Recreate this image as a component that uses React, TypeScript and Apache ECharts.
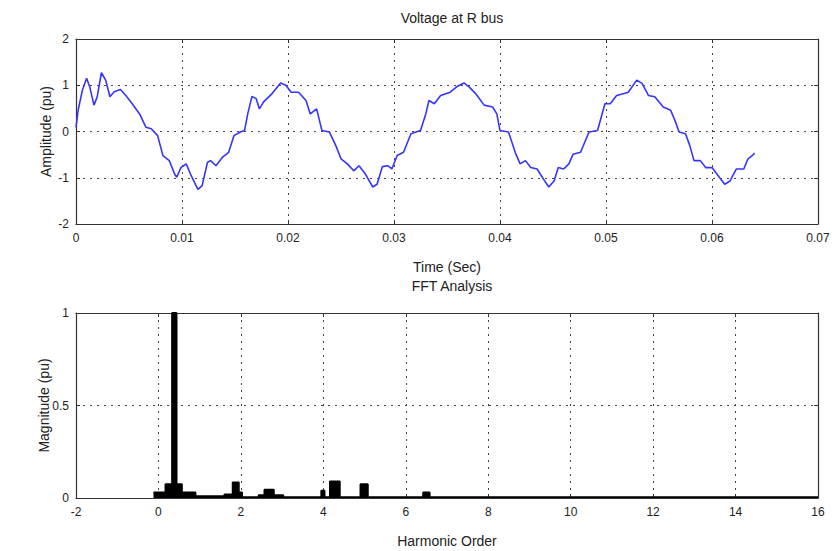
import React, { useEffect, useRef } from "react";
import * as echarts from "echarts";

// Top plot: voltage waveform at R bus
const timeSec = [
  0, 0.0002, 0.0006, 0.001, 0.0013, 0.0017, 0.002, 0.0024, 0.0028, 0.0032,
  0.0036, 0.0042, 0.0047, 0.0053, 0.006, 0.0066, 0.0071, 0.0077, 0.0082, 0.0088,
  0.0093, 0.0095, 0.0099, 0.0104, 0.0108, 0.0115, 0.0119, 0.0124, 0.0127, 0.0132,
  0.0138, 0.0144, 0.0149, 0.0155, 0.0159, 0.0162, 0.0166, 0.017, 0.0173, 0.0177,
  0.0185, 0.0193, 0.0198, 0.0203, 0.021, 0.0217, 0.0221, 0.0227, 0.0232, 0.0239,
  0.0245, 0.025, 0.0256, 0.0262, 0.0267, 0.0273, 0.028, 0.0284, 0.0289, 0.0294,
  0.0298, 0.0303, 0.0309, 0.0316, 0.0325, 0.033, 0.0333, 0.0338, 0.0344, 0.0353,
  0.036, 0.0366, 0.0371, 0.0377, 0.0385, 0.0393, 0.0397, 0.04, 0.0408, 0.0415,
  0.0419, 0.0424, 0.0429, 0.0435, 0.0441, 0.0446, 0.0451, 0.0455, 0.046, 0.0465,
  0.0469, 0.0476, 0.0484, 0.0492, 0.0499, 0.0504, 0.051, 0.0517, 0.0521, 0.0529,
  0.0534, 0.054, 0.0546, 0.0554, 0.0561, 0.0565, 0.0569, 0.0575, 0.0579, 0.0583,
  0.0589, 0.0594, 0.06, 0.0606, 0.0612, 0.0617, 0.0623, 0.063, 0.0634, 0.0639,
  0.064,
];
const voltagePu = [
  0.09, 0.46, 0.89, 1.15, 0.96, 0.57, 0.75, 1.27, 1.11, 0.75,
  0.86, 0.91, 0.78, 0.6, 0.38, 0.09, 0.06, -0.09, -0.52, -0.63,
  -0.92, -0.99, -0.78, -0.7, -0.92, -1.25, -1.17, -0.67, -0.63, -0.74,
  -0.56, -0.45, -0.09, -0.01, 0.02, 0.38, 0.76, 0.71, 0.49, 0.64,
  0.82, 1.05, 1.0, 0.85, 0.85, 0.67, 0.38, 0.49, 0.02, -0.01,
  -0.3, -0.59, -0.7, -0.85, -0.74, -0.92, -1.2, -1.14, -0.76, -0.74,
  -0.81, -0.52, -0.45, -0.05, 0.02, 0.38, 0.67, 0.6, 0.78, 0.85,
  0.98, 1.05, 0.96, 0.82, 0.57, 0.53, 0.38, 0.02, -0.01, -0.49,
  -0.7, -0.63, -0.78, -0.81, -1.03, -1.2, -1.07, -0.78, -0.81, -0.7,
  -0.49, -0.45, -0.01, 0.02, 0.6, 0.6, 0.78, 0.82, 0.85, 1.11,
  1.04, 0.78, 0.75, 0.53, 0.46, 0.24, -0.01, -0.05, -0.3, -0.63,
  -0.63, -0.78, -0.78, -0.96, -1.14, -1.07, -0.81, -0.81, -0.59, -0.5,
  -0.46,
];

// Bottom plot: FFT magnitude, each value holds from its order to the next order
const harmonicOrder = [
  -0.12, 0.17, 0.33, 0.44, 0.57, 0.9, 1.6, 1.8, 1.95, 2.03, 2.43, 2.57, 2.8,
  3.03, 3.95, 4.03, 4.16, 4.4, 4.9, 5.08, 6.42, 6.58, 16,
];
const fftMagnitude = [
  0.03, 0.075, 1.0, 0.075, 0.03, 0.01, 0.02, 0.085, 0.03, 0.005, 0.015, 0.045, 0.015,
  0.005, 0.04, 0.005, 0.09, 0.005, 0.075, 0.005, 0.03, 0.005, 0.005,
];

const topTitle = "Voltage at R bus";
const bottomTitle = "FFT Analysis";

export default function App() {
  const ref = useRef<HTMLDivElement>(null);
  useEffect(() => {
    const chart = echarts.init(ref.current!, null, { renderer: "svg" });
    const font = "Liberation Sans, Arial, sans-serif";
    const textColor = "#222";
    const frame = { show: true, onZero: false, lineStyle: { color: "#333", width: 1.2 } };
    const tickIn = { show: true, inside: true, length: 4, lineStyle: { color: "#333", width: 1 } };
    const dotted = { show: true, lineStyle: { type: [2, 5] as any, color: "#444", width: 1 } };
    const label = { fontSize: 12, color: textColor, fontFamily: font };
    const nameStyle = { fontSize: 14, color: textColor, fontFamily: font };
    const titleStyle = { fontSize: 14, fontWeight: "normal", color: textColor, fontFamily: font };
    const fmt = (v: number) => String(parseFloat(v.toFixed(3)));

    chart.setOption({
      animation: false,
      backgroundColor: "#fff",
      title: [
        { text: topTitle, left: 447, top: 6, textAlign: "center", textStyle: titleStyle },
        { text: bottomTitle, left: 447, top: 274, textAlign: "center", textStyle: titleStyle },
      ],
      grid: [
        { left: 76, right: 19, top: 39, height: 185 },
        { left: 76, right: 19, top: 313, height: 185 },
      ],
      xAxis: [
        {
          gridIndex: 0, type: "value", min: 0, max: 0.07, interval: 0.01, position: "bottom",
          axisLine: frame, axisTick: tickIn, splitLine: dotted,
          axisLabel: { ...label, margin: 8, formatter: fmt },
          name: "Time (Sec)", nameLocation: "middle", nameGap: 36, nameTextStyle: nameStyle,
        },
        {
          gridIndex: 0, type: "value", min: 0, max: 0.07, interval: 0.01, position: "top",
          axisLine: frame, axisTick: tickIn, splitLine: { show: false }, axisLabel: { show: false },
        },
        {
          gridIndex: 1, type: "value", min: -2, max: 16, interval: 2, position: "bottom",
          axisLine: frame, axisTick: tickIn, splitLine: dotted,
          axisLabel: { ...label, margin: 8 },
          name: "Harmonic Order", nameLocation: "middle", nameGap: 36, nameTextStyle: nameStyle,
        },
        {
          gridIndex: 1, type: "value", min: -2, max: 16, interval: 2, position: "top",
          axisLine: frame, axisTick: tickIn, splitLine: { show: false }, axisLabel: { show: false },
        },
      ],
      yAxis: [
        {
          gridIndex: 0, type: "value", min: -2, max: 2, interval: 1, position: "left",
          axisLine: frame, axisTick: tickIn, splitLine: dotted,
          axisLabel: { ...label, margin: 7 },
          name: "Amplitude (pu)", nameLocation: "middle", nameGap: 23, nameMoveOverlap: false,
          nameTextStyle: nameStyle,
        },
        {
          gridIndex: 0, type: "value", min: -2, max: 2, interval: 1, position: "right",
          axisLine: frame, axisTick: tickIn, splitLine: { show: false }, axisLabel: { show: false },
        },
        {
          gridIndex: 1, type: "value", min: 0, max: 1, interval: 0.5, position: "left",
          axisLine: frame, axisTick: tickIn, splitLine: dotted,
          axisLabel: { ...label, margin: 7 },
          name: "Magnitude (pu)", nameLocation: "middle", nameGap: 25, nameMoveOverlap: false,
          nameTextStyle: nameStyle,
        },
        {
          gridIndex: 1, type: "value", min: 0, max: 1, interval: 0.5, position: "right",
          axisLine: frame, axisTick: tickIn, splitLine: { show: false }, axisLabel: { show: false },
        },
      ],
      series: [
        {
          type: "line", xAxisIndex: 0, yAxisIndex: 0, symbol: "none", smooth: false,
          data: timeSec.map((t, i) => [t, voltagePu[i]]),
          lineStyle: { color: "#3535ff", width: 1.6 },
        },
        {
          type: "line", xAxisIndex: 2, yAxisIndex: 2, symbol: "none", step: "end",
          data: harmonicOrder.map((h, i) => [h, fftMagnitude[i]]),
          lineStyle: { color: "#000", width: 1.8 },
          areaStyle: { color: "#000", opacity: 1 },
        },
      ],
    });
    return () => chart.dispose();
  }, []);
  return <div ref={ref} style={{ position: "fixed", left: 0, top: 0, width: 837, height: 551 }} />;
}
